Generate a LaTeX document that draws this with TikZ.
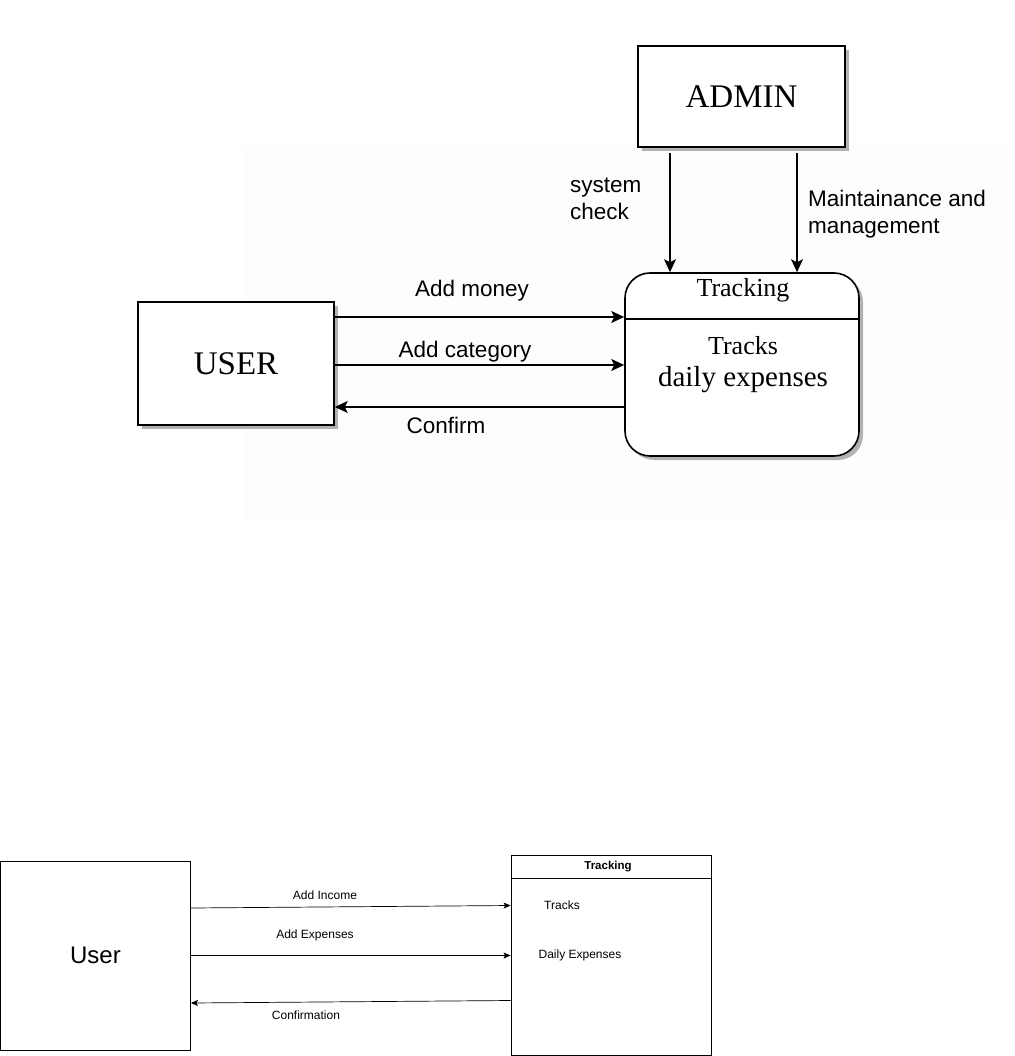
\documentclass[tikz,border=0pt]{standalone}
\usepackage{fontspec}
\setmainfont{Liberation Serif}
\setsansfont{Liberation Sans}
\usetikzlibrary{arrows.meta, calc, positioning, shadows}

\begin{document}
\begin{tikzpicture}[x=1pt,y=-1pt,
    box/.style={draw, line width=1.6pt, fill=white, inner sep=0pt,
        drop shadow={shadow xshift=4pt, shadow yshift=-4pt, fill=black!30, opacity=1}},
    flow/.style={line width=1.4pt, -{Stealth[length=13pt, width=12pt, inset=3pt]}},
    label/.style={font=\sffamily\fontsize{22.5}{27}\selectfont, align=left, inner sep=0pt},
    thinbox/.style={draw, line width=0.8pt, inner sep=0pt},
    thinflow/.style={line width=0.7pt, -{Stealth[length=7pt, width=6pt, inset=1.5pt]}},
    small/.style={font=\sffamily\fontsize{12}{14}\selectfont, inner sep=0pt}]
    \useasboundingbox (0,0) rectangle (1014,1056);

    % faint screenshot background
    \fill[black!0.7] (245,145) rectangle (1014,520);

    % --- upper diagram ---
    \node (admin)[box, minimum width=207pt, minimum height=101pt] at (741.5,96.5)
        {\fontsize{33}{36}\selectfont ADMIN};
    \node (user)[box, minimum width=196pt, minimum height=123pt] at (236,363.5)
        {\fontsize{33}{36}\selectfont USER};
    \node (track)[box, rounded corners=25pt, minimum width=234pt, minimum height=183pt] at (742,364.5) {};

    % header divider and texts of the process
    \draw[line width=1.4pt] (track.west |- 0,319) -- (track.east |- 0,319);
    \node (trackname) at (743,290) {\fontsize{26}{28}\selectfont Tracking};
    \node (trackdesc1) at (743,346) {\fontsize{26}{28}\selectfont Tracks};
    \node (trackdesc2) at (743,380) {\fontsize{29}{30}\selectfont daily expenses};

    % admin flows
    \coordinate (sys) at (670,153);
    \coordinate (maint) at (797,153);
    \draw[flow] (sys) -- (sys |- track.north);
    \draw[flow] (maint) -- (maint |- track.north);
    \node (syslabel)[label, anchor=north west] at (570,178) {system\\check};
    \node (maintlabel)[label, anchor=north west] at (808,190) {Maintainance and\\management};

    % user flows
    \draw[flow] (user.east |- 0,317) -- (track.west |- 0,317);
    \draw[flow] (user.east |- 0,365) -- (track.west |- 0,365);
    \draw[flow] (track.west |- 0,407) -- (user.east |- 0,407);
    \node (money)[label] at (472,291) {Add money};
    \node (category)[label] at (465,352) {Add category};
    \node (confirm)[label] at (446,425) {Confirm};

    % --- lower diagram ---
    \node (user2)[thinbox, minimum width=190pt, minimum height=189pt] at (95.5,955.5)
        {\sffamily\fontsize{24}{26}\selectfont User};
    \node (track2)[thinbox, minimum width=200pt, minimum height=200pt] at (611,955) {};
    \draw[line width=0.8pt] (track2.west |- 0,878) -- (track2.east |- 0,878);
    \node (track2name)[small, font=\sffamily\bfseries\fontsize{11.5}{13}\selectfont] at (608,866.5) {Tracking};
    \node (track2a)[small] at (562,905) {Tracks};
    \node (track2b)[small] at (580,955) {Daily Expenses};

    \coordinate (inA) at ($(user2.east |- 0,908)$);
    \coordinate (inB) at ($(track2.west |- 0,905.5)$);
    \coordinate (outA) at ($(track2.west |- 0,1000.5)$);
    \coordinate (outB) at ($(user2.east |- 0,1003)$);
    \draw[thinflow] (inA) -- (inB);
    \draw[thinflow] (user2.east |- 0,955.5) -- (track2.west |- 0,955.5);
    \draw[thinflow] (outA) -- (outB);
    \node (income)[small] at (325,895) {Add Income};
    \node (expenses)[small] at (315,935) {Add Expenses};
    \node (confirmation)[small] at (306,1015) {Confirmation};
\end{tikzpicture}
\end{document}
